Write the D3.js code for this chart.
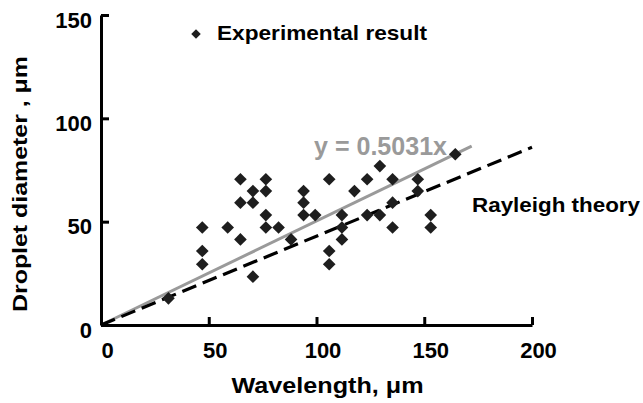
<!DOCTYPE html>
<html><head><meta charset="utf-8">
<script src="https://cdn.jsdelivr.net/npm/d3@7"></script>
<style>body{margin:0;background:#fff}text{font-family:"Liberation Sans",Arial,sans-serif;font-weight:bold}</style>
</head><body><svg id="c" width="643" height="403"></svg>
<script>
const wavelength = [31.3,47.0,47.0,47.0,58.8,64.7,64.7,64.7,70.5,70.5,70.5,76.5,76.5,76.5,76.5,82.4,88.2,94.0,94.0,94.0,99.4,105.9,105.9,105.9,111.8,111.8,111.8,117.6,123.5,123.5,129.4,129.4,135.3,135.3,135.3,147.0,147.0,153.0,153.0,164.4];
const diameter   = [12.9,47.2,35.8,29.4,47.2,70.5,59.2,41.4,64.8,59.2,23.4,70.5,64.8,53.2,47.2,47.2,41.4,64.8,59.2,53.2,53.2,70.5,35.8,29.4,53.2,47.2,41.4,64.8,70.5,53.2,76.9,53.2,70.5,59.2,47.2,70.5,64.8,53.2,47.2,82.6];
const xTicks = [0,50,100,150,200];
const yTicks = [0,50,100,150];
const fitSlope = 0.5031, fitEnd = 172;
const rayleighSlope = 0.43, rayleighEnd = 200;

const svg = d3.select("#c");
const x = d3.scaleLinear().domain([0,200]).range([101,532]);
const y = d3.scaleLinear().domain([0,150]).range([325,15]);

// lines
const line = d3.line().x(d=>x(d[0])).y(d=>y(d[1]));
svg.append("path").attr("d", line([[0,0],[fitEnd,fitSlope*fitEnd]]))
  .attr("stroke","#9a9a9a").attr("stroke-width",3).attr("fill","none");
svg.append("path").attr("d", line([[0,0],[rayleighEnd,rayleighSlope*rayleighEnd]]))
  .attr("stroke","#000").attr("stroke-width",3.2).attr("fill","none").attr("stroke-dasharray","15,7");

// points
const diamond = d3.symbol(d3.symbolSquare, 80);
svg.append("g").selectAll("path").data(wavelength.map((w,i)=>[w,diameter[i]])).join("path")
  .attr("d", diamond).attr("fill","#1e1e1e")
  .attr("transform", d=>`translate(${x(d[0])},${y(d[1])}) rotate(45)`);

// axes
const xa = svg.append("g").attr("transform","translate(0,325)")
  .call(d3.axisBottom(x).tickValues(xTicks).tickSizeInner(-8).tickSizeOuter(0).tickPadding(0).tickFormat(d3.format("d")));
xa.select(".domain").attr("stroke-width",3);
xa.selectAll(".tick line").attr("stroke-width",3);
xa.selectAll(".tick text").attr("font-size",22).attr("fill","#000").attr("dy",null).attr("y",33).attr("x",6);

const ya = svg.append("g").attr("transform","translate(101,0)")
  .call(d3.axisLeft(y).tickValues(yTicks).tickSizeInner(-8).tickSizeOuter(0).tickPadding(0).tickFormat(d3.format("d")));
ya.select(".domain").attr("stroke-width",3);
ya.selectAll(".tick line").attr("stroke-width",3);
ya.selectAll(".tick text").attr("font-size",22).attr("fill","#000").attr("x",-9).attr("dy",null).attr("y",12);

// titles
svg.append("text").attr("x",327.5).attr("y",393).attr("text-anchor","middle").attr("font-size",22)
  .attr("textLength",192).attr("lengthAdjust","spacingAndGlyphs").text("Wavelength, μm");
svg.append("text").attr("transform","translate(27,184) rotate(-90)").attr("text-anchor","middle").attr("font-size",21)
  .attr("textLength",256).attr("lengthAdjust","spacingAndGlyphs").text("Droplet diameter , μm");

// legend
svg.append("path").attr("d", d3.symbol(d3.symbolSquare, 45)).attr("fill","#1e1e1e").attr("transform","translate(196,34) rotate(45)");
svg.append("text").attr("x",217).attr("y",40).attr("font-size",21)
  .attr("textLength",210).attr("lengthAdjust","spacingAndGlyphs").text("Experimental result");

svg.append("text").attr("x",314).attr("y",155).attr("font-size",25).attr("fill","#9a9a9a")
  .attr("textLength",133).attr("lengthAdjust","spacingAndGlyphs").text("y = 0.5031x");
svg.append("text").attr("x",472).attr("y",212).attr("font-size",21)
  .attr("textLength",168).attr("lengthAdjust","spacingAndGlyphs").text("Rayleigh theory");
</script></body></html>
